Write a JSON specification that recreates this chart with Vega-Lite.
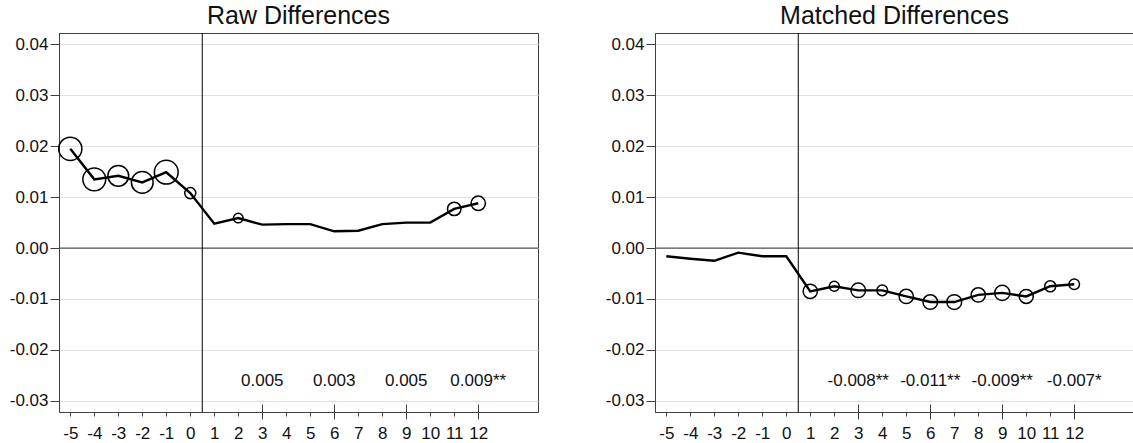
{
  "$schema": "https://vega.github.io/schema/vega-lite/v6.json",
  "background": "white",
  "padding": {"left": 8, "top": 3, "right": 0, "bottom": 0},
  "config": {
    "font": "Liberation Sans",
    "view": {"stroke": "#404040", "strokeWidth": 1},
    "axis": {"labelFont": "Liberation Sans", "labelColor": "#111111", "labelFontSize": 17, "domainColor": "#404040", "tickColor": "#404040", "grid": false, "title": null},
    "title": {"font": "Liberation Sans", "fontSize": 25, "fontWeight": "normal", "color": "#111111", "anchor": "middle", "offset": 0, "baseline": "alphabetic"}
  },
  "datasets": {
    "series": [
      {"panel": "raw", "t": -5, "diff": 0.0195, "w": 6.86},
      {"panel": "raw", "t": -4, "diff": 0.0135, "w": 6.66},
      {"panel": "raw", "t": -3, "diff": 0.0142, "w": 5.52},
      {"panel": "raw", "t": -2, "diff": 0.0129, "w": 6.0},
      {"panel": "raw", "t": -1, "diff": 0.0149, "w": 7.18},
      {"panel": "raw", "t": 0, "diff": 0.0108, "w": 1.56},
      {"panel": "raw", "t": 1, "diff": 0.0048, "w": 0},
      {"panel": "raw", "t": 2, "diff": 0.0059, "w": 1.17},
      {"panel": "raw", "t": 3, "diff": 0.0046, "w": 0},
      {"panel": "raw", "t": 4, "diff": 0.0047, "w": 0},
      {"panel": "raw", "t": 5, "diff": 0.0047, "w": 0},
      {"panel": "raw", "t": 6, "diff": 0.0033, "w": 0},
      {"panel": "raw", "t": 7, "diff": 0.0034, "w": 0},
      {"panel": "raw", "t": 8, "diff": 0.0047, "w": 0},
      {"panel": "raw", "t": 9, "diff": 0.0050, "w": 0},
      {"panel": "raw", "t": 10, "diff": 0.0050, "w": 0},
      {"panel": "raw", "t": 11, "diff": 0.0077, "w": 2.31},
      {"panel": "raw", "t": 12, "diff": 0.0088, "w": 2.62},
      {"panel": "matched", "t": -5, "diff": -0.0016, "w": 0},
      {"panel": "matched", "t": -4, "diff": -0.0021, "w": 0},
      {"panel": "matched", "t": -3, "diff": -0.0025, "w": 0},
      {"panel": "matched", "t": -2, "diff": -0.0009, "w": 0},
      {"panel": "matched", "t": -1, "diff": -0.0016, "w": 0},
      {"panel": "matched", "t": 0, "diff": -0.0016, "w": 0},
      {"panel": "matched", "t": 1, "diff": -0.0085, "w": 2.6},
      {"panel": "matched", "t": 2, "diff": -0.0075, "w": 1.3},
      {"panel": "matched", "t": 3, "diff": -0.0083, "w": 2.7},
      {"panel": "matched", "t": 4, "diff": -0.0083, "w": 1.45},
      {"panel": "matched", "t": 5, "diff": -0.0095, "w": 2.6},
      {"panel": "matched", "t": 6, "diff": -0.0106, "w": 2.7},
      {"panel": "matched", "t": 7, "diff": -0.0106, "w": 2.8},
      {"panel": "matched", "t": 8, "diff": -0.0092, "w": 2.6},
      {"panel": "matched", "t": 9, "diff": -0.0088, "w": 2.9},
      {"panel": "matched", "t": 10, "diff": -0.0095, "w": 2.5},
      {"panel": "matched", "t": 11, "diff": -0.0075, "w": 1.55},
      {"panel": "matched", "t": 12, "diff": -0.0071, "w": 1.4}
    ],
    "notes": [
      {"panel": "raw", "t": 3, "label": "0.005"},
      {"panel": "raw", "t": 6, "label": "0.003"},
      {"panel": "raw", "t": 9, "label": "0.005"},
      {"panel": "raw", "t": 12, "label": "0.009**"},
      {"panel": "matched", "t": 3, "label": "-0.008**"},
      {"panel": "matched", "t": 6, "label": "-0.011**"},
      {"panel": "matched", "t": 9, "label": "-0.009**"},
      {"panel": "matched", "t": 12, "label": "-0.007*"}
    ]
  },
  "spacing": 117,
  "bounds": "flush",
  "hconcat": [
    {
      "width": 479, "height": 379,
      "title": "Raw Differences",
      "resolve": {"axis": {"x": "independent"}},
      "layer": [
        {
          "data": {"name": "series"},
          "transform": [{"filter": "datum.panel === 'raw'"}],
          "mark": {"type": "line", "color": "#000000", "strokeWidth": 2.4},
          "encoding": {
            "x": {"field": "t", "type": "quantitative", "scale": {"domain": [-5.47, 14.49], "nice": false, "zero": false},
                  "axis": {"orient": "bottom", "values": [-5,-4,-3,-2,-1,0,1,2,3,4,5,6,7,8,9,10,11,12], "tickSize": 4, "labelPadding": 9, "labelOverlap": false, "labelFlush": false, "labelBound": false, "labelExpr": "replace(datum.label, '\u2212', '-')"}},
            "y": {"field": "diff", "type": "quantitative", "scale": {"domain": [-0.0322, 0.04225], "nice": false, "zero": false},
                  "axis": {"orient": "left", "values": [-0.03,-0.02,-0.01,0,0.01,0.02,0.03,0.04], "format": ".2f", "tickSize": 9, "labelPadding": 2, "grid": true, "gridColor": "#e2e2e2", "gridWidth": 1, "labelOverlap": false, "labelExpr": "replace(datum.label, '\u2212', '-')"}}
          }
        },
        {
          "data": {"values": [{}]},
          "mark": {"type": "rule", "color": "#555555", "strokeWidth": 1.3},
          "encoding": {"y": {"datum": 0, "type": "quantitative"}}
        },
        {
          "data": {"values": [{}]},
          "mark": {"type": "rule", "color": "#000000", "strokeWidth": 1},
          "encoding": {"x": {"datum": 0.5, "type": "quantitative", "axis": null}}
        },
        {
          "data": {"name": "series"},
          "transform": [{"filter": "datum.panel === 'raw' && datum.w > 0"}],
          "mark": {"type": "point", "shape": "circle", "filled": false, "stroke": "#000000", "strokeWidth": 1.5, "opacity": 1},
          "encoding": {
            "x": {"field": "t", "type": "quantitative", "axis": null},
            "y": {"field": "diff", "type": "quantitative"},
            "size": {"field": "w", "type": "quantitative", "scale": {"type": "linear", "domain": [0, 10], "range": [0, 785.4]}, "legend": null}
          }
        },
        {
          "data": {"name": "notes"},
          "transform": [{"filter": "datum.panel === 'raw'"}],
          "mark": {"type": "text", "fontSize": 17, "align": "center", "baseline": "middle", "color": "#111111"},
          "encoding": {
            "x": {"field": "t", "type": "quantitative",
                  "axis": {"orient": "bottom", "values": [3, 6, 9, 12], "labels": false, "domain": false, "grid": false, "tickSize": 15, "offset": -8}},
            "y": {"datum": -0.0262, "type": "quantitative"},
            "text": {"field": "label"}
          }
        }
      ]
    },
    {
      "width": 479, "height": 379,
      "title": "Matched Differences",
      "resolve": {"axis": {"x": "independent"}},
      "layer": [
        {
          "data": {"name": "series"},
          "transform": [{"filter": "datum.panel === 'matched'"}],
          "mark": {"type": "line", "color": "#000000", "strokeWidth": 2.4},
          "encoding": {
            "x": {"field": "t", "type": "quantitative", "scale": {"domain": [-5.47, 14.49], "nice": false, "zero": false},
                  "axis": {"orient": "bottom", "values": [-5,-4,-3,-2,-1,0,1,2,3,4,5,6,7,8,9,10,11,12], "tickSize": 4, "labelPadding": 9, "labelOverlap": false, "labelFlush": false, "labelBound": false, "labelExpr": "replace(datum.label, '\u2212', '-')"}},
            "y": {"field": "diff", "type": "quantitative", "scale": {"domain": [-0.0322, 0.04225], "nice": false, "zero": false},
                  "axis": {"orient": "left", "values": [-0.03,-0.02,-0.01,0,0.01,0.02,0.03,0.04], "format": ".2f", "tickSize": 9, "labelPadding": 2, "grid": true, "gridColor": "#e2e2e2", "gridWidth": 1, "labelOverlap": false, "labelExpr": "replace(datum.label, '\u2212', '-')"}}
          }
        },
        {
          "data": {"values": [{}]},
          "mark": {"type": "rule", "color": "#555555", "strokeWidth": 1.3},
          "encoding": {"y": {"datum": 0, "type": "quantitative"}}
        },
        {
          "data": {"values": [{}]},
          "mark": {"type": "rule", "color": "#000000", "strokeWidth": 1},
          "encoding": {"x": {"datum": 0.5, "type": "quantitative", "axis": null}}
        },
        {
          "data": {"name": "series"},
          "transform": [{"filter": "datum.panel === 'matched' && datum.w > 0"}],
          "mark": {"type": "point", "shape": "circle", "filled": false, "stroke": "#000000", "strokeWidth": 1.5, "opacity": 1},
          "encoding": {
            "x": {"field": "t", "type": "quantitative", "axis": null},
            "y": {"field": "diff", "type": "quantitative"},
            "size": {"field": "w", "type": "quantitative", "scale": {"type": "linear", "domain": [0, 10], "range": [0, 785.4]}, "legend": null}
          }
        },
        {
          "data": {"name": "notes"},
          "transform": [{"filter": "datum.panel === 'matched'"}],
          "mark": {"type": "text", "fontSize": 17, "align": "center", "baseline": "middle", "color": "#111111"},
          "encoding": {
            "x": {"field": "t", "type": "quantitative",
                  "axis": {"orient": "bottom", "values": [3, 6, 9, 12], "labels": false, "domain": false, "grid": false, "tickSize": 15, "offset": -8}},
            "y": {"datum": -0.0262, "type": "quantitative"},
            "text": {"field": "label"}
          }
        }
      ]
    }
  ]
}
